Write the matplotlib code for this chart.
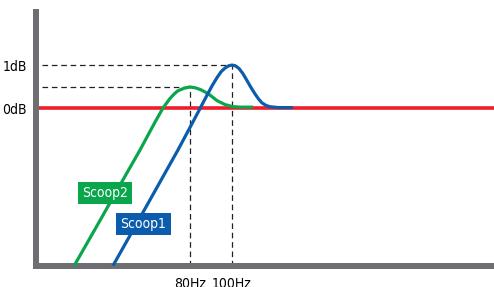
import matplotlib
matplotlib.use("Agg")
import matplotlib.pyplot as plt
from matplotlib import font_manager
import numpy as np

# Data (frequency in Hz, level in dB)
scoop2_freq = [43.2, 50.0, 55.0, 61.3, 66.4, 69.3, 71.9, 73.6, 75.0, 77.5, 80.0, 82.3, 84.5, 86.8, 89.0, 92.4, 96.4, 100.6, 105.0, 111.9]
scoop2_db = [-3.67, -2.55, -1.81, -0.98, -0.33, 0.0, 0.22, 0.33, 0.40, 0.46, 0.49, 0.47, 0.43, 0.37, 0.30, 0.17, 0.08, 0.03, 0.02, 0.02]
scoop1_freq = [53.1, 60.0, 67.0, 75.0, 81.3, 84.5, 87.6, 90.0, 92.4, 94.5, 96.4, 98.2, 100.0, 101.9, 103.8, 106.0, 108.3, 110.6, 113.0, 115.2, 117.3, 119.8, 122.4, 128.0, 138.3]
scoop1_db = [-3.67, -2.72, -1.86, -0.98, -0.32, 0.0, 0.30, 0.52, 0.71, 0.85, 0.93, 0.98, 1.0, 0.98, 0.92, 0.80, 0.64, 0.48, 0.33, 0.21, 0.12, 0.06, 0.03, 0.01, 0.01]
ref_db = 0.0
peak_freqs = [80, 100]
peak_dbs = [0.49, 1.0]
ytick_vals = [0, 1]
ytick_labels = ["0dB", "1dB"]
xtick_labels = ["80Hz", "100Hz"]

GREEN = "#0aa64c"
BLUE = "#0b5cad"
RED = "#ee1f2b"
GRAY = "#6d6e71"

# choose a narrow font if available
font_kw = dict(family='DejaVu Sans', stretch='condensed')
for cand in ['Liberation Sans Narrow', 'Arial Narrow']:
    try:
        font_manager.findfont(font_manager.FontProperties(family=cand), fallback_to_default=False)
        font_kw = dict(family=cand)
        break
    except Exception:
        pass
fp = font_manager.FontProperties(size=10, **font_kw)

W, H = 494, 287
fig = plt.figure(figsize=(W / 100, H / 100), dpi=100)
left_px, bottom_px, top_px = 36, 265.5, 12
ax = fig.add_axes([left_px / W, (H - bottom_px) / H, (W - left_px) / W, (bottom_px - top_px) / H])
ax.set_xscale('log')
ax.set_xlim(35.27, 402.9)
ax.set_ylim(-3.663, 2.233)

for s in ['top', 'right']:
    ax.spines[s].set_visible(False)
for s in ['left', 'bottom']:
    ax.spines[s].set_color(GRAY)
    ax.spines[s].set_linewidth(4.3)
    ax.spines[s].set_capstyle('projecting')

ax.axhline(ref_db, color=RED, lw=2.6, zorder=2)

# dashed guide lines
for f, d in zip(peak_freqs, peak_dbs):
    ax.plot([36.4, f], [d, d], color="#222222", lw=0.9, ls=(0, (4.5, 3)), zorder=1)
    ax.plot([f, f], [ax.get_ylim()[0], d], color="#222222", lw=0.9, ls=(0, (4.5, 3)), zorder=1)

ax.plot(scoop2_freq, scoop2_db, color=GREEN, lw=2.3, zorder=3, solid_capstyle='butt')
ax.plot(scoop1_freq, scoop1_db, color=BLUE, lw=2.3, zorder=4, solid_capstyle='butt')

ax.set_yticks(ytick_vals)
ax.set_yticklabels(ytick_labels, fontproperties=fp)
ax.set_xticks(peak_freqs)
ax.set_xticklabels(xtick_labels, fontproperties=fp)
ax.xaxis.set_minor_locator(matplotlib.ticker.NullLocator())
ax.tick_params(axis='both', length=0)
ax.tick_params(axis='y', pad=6.5)
ax.tick_params(axis='x', pad=8.5)

# labels
def label(txt, cx, cy, color):
    fig.text(cx / W, 1 - cy / H, txt, color='white', fontproperties=fp, ha='center', va='center',
             bbox=dict(boxstyle='square,pad=0.3', fc=color, ec='none'))

label("Scoop2", 105, 193, GREEN)
label("Scoop1", 143.5, 224, BLUE)

fig.savefig("out.png", dpi=100)
